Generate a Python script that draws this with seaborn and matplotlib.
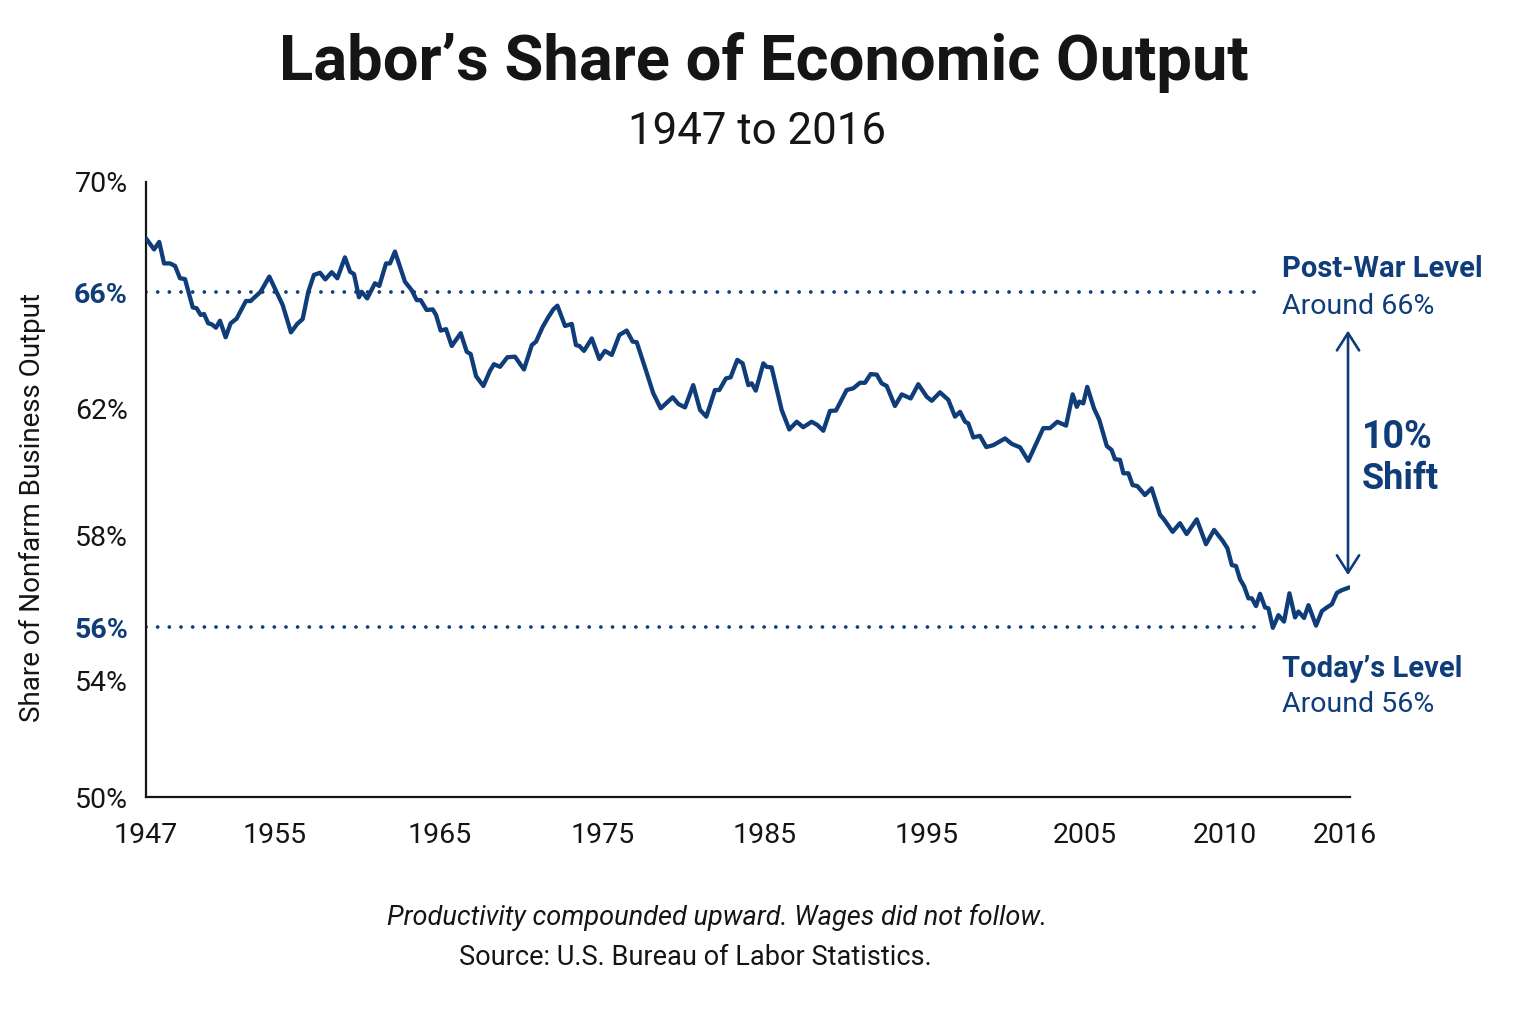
import numpy as np
import pandas as pd
import matplotlib
matplotlib.use("Agg")
import matplotlib.pyplot as plt
import seaborn as sns

# labor share of nonfarm business output
years = [
    1947.00, 1947.50, 1947.82, 1948.12, 1948.49, 1948.80, 1949.11, 1949.42, 1949.90, 1950.14,
    1950.39, 1950.60, 1950.86, 1951.07, 1951.34, 1951.59, 1951.94, 1952.25, 1952.62, 1953.20,
    1953.49, 1954.11, 1954.65,
    1955.47, 1955.97, 1956.35, 1956.68, 1957.02, 1957.36, 1957.73, 1958.05, 1958.44, 1958.78,
    1959.24, 1959.55, 1959.79, 1960.09, 1960.25, 1960.59, 1961.06, 1961.32, 1961.73, 1961.97,
    1962.27, 1962.88, 1963.28, 1963.59, 1963.83, 1964.19, 1964.56, 1964.76,
    1965.04, 1965.37, 1965.72, 1966.27, 1966.64, 1966.88, 1967.21, 1967.66, 1968.07, 1968.31,
    1968.68, 1969.13, 1969.60, 1970.15, 1970.63, 1970.89, 1971.30, 1971.64, 1971.95, 1972.20,
    1972.67, 1973.08, 1973.34, 1973.55, 1973.83, 1974.31, 1974.77,
    1975.12, 1975.54, 1976.01, 1976.46, 1976.83, 1977.08, 1977.59, 1978.10, 1978.56, 1978.93,
    1979.30, 1979.65, 1980.06, 1980.57, 1980.99, 1981.38, 1981.91, 1982.18, 1982.59, 1982.88,
    1983.29, 1983.62, 1983.97, 1984.18, 1984.43,
    1984.90, 1985.10, 1985.41, 1986.03, 1986.50, 1986.96, 1987.36, 1987.88, 1988.23, 1988.60,
    1989.01, 1989.38, 1990.04, 1990.45, 1990.86, 1991.17, 1991.52, 1991.90, 1992.20, 1992.51,
    1993.02, 1993.44, 1993.99, 1994.46,
    1994.98, 1995.30, 1995.82, 1996.35, 1996.77, 1997.09, 1997.41, 1997.61, 1997.93, 1998.35,
    1998.75, 1999.20, 1999.94, 2000.36, 2000.89, 2001.41, 2002.36, 2002.78, 2003.25, 2003.80,
    2004.22, 2004.48, 2004.64, 2004.89,
    2005.08, 2005.32, 2005.51, 2005.78, 2005.95, 2006.07, 2006.25, 2006.37, 2006.55, 2006.70,
    2006.87, 2007.14, 2007.38, 2007.68, 2007.82, 2008.13, 2008.39, 2008.63, 2008.99, 2009.32,
    2009.61, 2009.92,
    2010.12, 2010.34, 2010.55, 2010.75, 2010.95, 2011.17, 2011.34, 2011.55, 2011.75, 2012.00,
    2012.17, 2012.39, 2012.67, 2012.95, 2013.22, 2013.50, 2013.67, 2013.95, 2014.17, 2014.55,
    2014.84, 2015.09, 2015.34, 2015.59, 2015.84, 2016.22,
]
share = [
    67.95, 67.55, 67.82, 67.04, 67.04, 66.95, 66.50, 66.47, 65.47, 65.44,
    65.21, 65.24, 64.92, 64.89, 64.77, 65.01, 64.44, 64.92, 65.08, 65.69,
    65.69, 66.01, 66.56,
    65.55, 64.61, 64.90, 65.07, 66.01, 66.62, 66.70, 66.46, 66.72, 66.50,
    67.26, 66.74, 66.65, 65.82, 66.01, 65.78, 66.32, 66.22, 67.04, 67.04,
    67.47, 66.37, 66.07, 65.72, 65.72, 65.38, 65.40, 65.21,
    64.67, 64.72, 64.14, 64.58, 63.94, 63.86, 63.10, 62.76, 63.29, 63.51,
    63.42, 63.75, 63.77, 63.33, 64.17, 64.29, 64.80, 65.13, 65.40, 65.53,
    64.83, 64.90, 64.17, 64.14, 63.97, 64.40, 63.69,
    63.97, 63.83, 64.52, 64.67, 64.29, 64.27, 63.40, 62.51, 61.99, 62.18,
    62.37, 62.14, 62.02, 62.79, 61.94, 61.73, 62.62, 62.62, 63.02, 63.06,
    63.66, 63.54, 62.79, 62.85, 62.60,
    63.54, 63.42, 63.40, 61.94, 61.33, 61.57, 61.40, 61.57, 61.47, 61.29,
    61.91, 61.92, 62.62, 62.68, 62.87, 62.87, 63.17, 63.15, 62.85, 62.76,
    62.07, 62.47, 62.33, 62.82,
    62.39, 62.25, 62.54, 62.28, 61.73, 61.88, 61.57, 61.52, 61.08, 61.13,
    60.78, 60.84, 61.05, 60.88, 60.77, 60.35, 61.37, 61.37, 61.57, 61.45,
    62.47, 62.04, 62.22, 62.16,
    62.73, 61.99, 61.63, 60.81, 60.69, 60.40, 60.38, 59.96, 59.96, 59.59,
    59.56, 59.28, 59.49, 58.66, 58.52, 58.13, 58.40, 58.06, 58.52, 57.82,
    58.19, 57.89,
    57.73, 57.36, 57.34, 57.05, 56.90, 56.63, 56.63, 56.46, 56.73, 56.43,
    56.41, 55.97, 56.26, 56.12, 56.74, 56.21, 56.34, 56.20, 56.48, 56.03,
    56.35, 56.43, 56.50, 56.75, 56.81, 56.87,
]

x_ticks = [1947, 1955, 1965, 1975, 1985, 1995, 2005, 2010, 2016]
y_ticks = [50, 54, 56, 58, 62, 66, 70]
post_war_level = 66
today_level = 56
shift_top = 64.67
shift_bottom = 57.14

title = "Labor’s Share of Economic Output"
subtitle = "1947 to 2016"
ylabel = "Share of Nonfarm Business Output"
note = "Productivity compounded upward. Wages did not follow."
source = "Source: U.S. Bureau of Labor Statistics."

# the reference axes are not evenly spaced, so warp them piecewise
x_knots = [1947, 1955, 1965, 1975, 1985, 1995, 2005, 2010, 2016, 2016.25]
x_knot_pos = [0, 0.1071, 0.2442, 0.3796, 0.5141, 0.6487, 0.7799, 0.8962, 0.9959, 1.0]
y_knots = [50, 54, 56, 58, 62, 66, 70]
y_knot_pos = [0, 0.1902, 0.2764, 0.4244, 0.6325, 0.8211, 1.0]


def warp(knots, pos):
    k = np.asarray(knots, float)
    p = np.asarray(pos, float)

    def fwd(v):
        v = np.asarray(v, float)
        lo = p[0] + (v - k[0]) * (p[1] - p[0]) / (k[1] - k[0])
        hi = p[-1] + (v - k[-1]) * (p[-1] - p[-2]) / (k[-1] - k[-2])
        return np.where(v < k[0], lo, np.where(v > k[-1], hi, np.interp(v, k, p)))

    def inv(t):
        t = np.asarray(t, float)
        lo = k[0] + (t - p[0]) * (k[1] - k[0]) / (p[1] - p[0])
        hi = k[-1] + (t - p[-1]) * (k[-1] - k[-2]) / (p[-1] - p[-2])
        return np.where(t < p[0], lo, np.where(t > p[-1], hi, np.interp(t, p, k)))

    return fwd, inv


navy = "#0f3d7a"
ink = "#151515"

sns.set_theme(style="white")
plt.rcParams["font.family"] = ["Roboto", "DejaVu Sans"]

df = pd.DataFrame({"year": years, "share": share})

fig = plt.figure(figsize=(15.36, 10.24), dpi=100)
ax = fig.add_axes([146 / 1536, 1 - 797 / 1024, 1204 / 1536, 615 / 1024])

for level in (post_war_level, today_level):
    ax.plot([1947, 2011.85], [level, level], color=navy, lw=2.7,
            linestyle=(0, (0.01, 3.1)), dash_capstyle="round", zorder=1)

sns.lineplot(data=df, x="year", y="share", ax=ax, color=navy, lw=3.1, zorder=3)

ax.set_xscale("function", functions=warp(x_knots, x_knot_pos))
ax.set_yscale("function", functions=warp(y_knots, y_knot_pos))
ax.set_xlim(1947, 2016.25)
ax.set_ylim(50, 70)

ax.set_xticks(x_ticks)
ax.set_xticklabels([str(v) for v in x_ticks])
ax.set_yticks(y_ticks)
ax.set_yticklabels([f"{v}%" for v in y_ticks])
ax.xaxis.set_minor_locator(matplotlib.ticker.NullLocator())
ax.yaxis.set_minor_locator(matplotlib.ticker.NullLocator())
ax.tick_params(axis="both", length=0, labelsize=20.5, labelcolor=ink)
ax.tick_params(axis="y", pad=13)
ax.tick_params(axis="x", pad=18)
for lab, v in zip(ax.get_yticklabels(), y_ticks):
    if v in (post_war_level, today_level):
        lab.set_color(navy)
        lab.set_fontweight("bold")

ax.set_xlabel("")
ax.set_ylabel(ylabel, fontsize=20, color=ink)
ax.yaxis.set_label_coords(-0.083, 0.47)

sns.despine(ax=ax)
for side in ("left", "bottom"):
    ax.spines[side].set_color(ink)
    ax.spines[side].set_linewidth(1.6)

ax.annotate("", xy=(2016.15, shift_bottom), xytext=(2016.15, shift_top),
            arrowprops=dict(arrowstyle="<->,head_length=0.5,head_width=0.32",
                            color=navy, lw=1.9, mutation_scale=25,
                            shrinkA=0, shrinkB=0),
            annotation_clip=False)

fig.text(0.4974, 1 - 80 / 1024, title, ha="center", va="baseline",
         fontsize=45.5, fontweight="bold", color=ink)
fig.text(0.4928, 1 - 144 / 1024, subtitle, ha="center", va="baseline",
         fontsize=31.5, color=ink)

fig.text(1282 / 1536, 1 - 277 / 1024, "Post-War Level", fontsize=21,
         fontweight="bold", color=navy, va="baseline")
fig.text(1282 / 1536, 1 - 314 / 1024, f"Around {post_war_level}%", fontsize=20.5,
         color=navy, va="baseline")
fig.text(1362 / 1536, 1 - 448 / 1024, "10%", fontsize=27,
         fontweight="bold", color=navy, va="baseline")
fig.text(1362 / 1536, 1 - 489 / 1024, "Shift", fontsize=26,
         fontweight="bold", color=navy, va="baseline")
fig.text(1282 / 1536, 1 - 677 / 1024, "Today’s Level", fontsize=21,
         fontweight="bold", color=navy, va="baseline")
fig.text(1282 / 1536, 1 - 712 / 1024, f"Around {today_level}%", fontsize=20.5,
         color=navy, va="baseline")

fig.text(717 / 1536, 1 - 925 / 1024, note, ha="center", va="baseline",
         fontsize=19.5, style="italic", color=ink)
fig.text(695 / 1536, 1 - 965 / 1024, source, ha="center", va="baseline",
         fontsize=19.5, color=ink)

fig.savefig("out.png", dpi=100, facecolor="white")
